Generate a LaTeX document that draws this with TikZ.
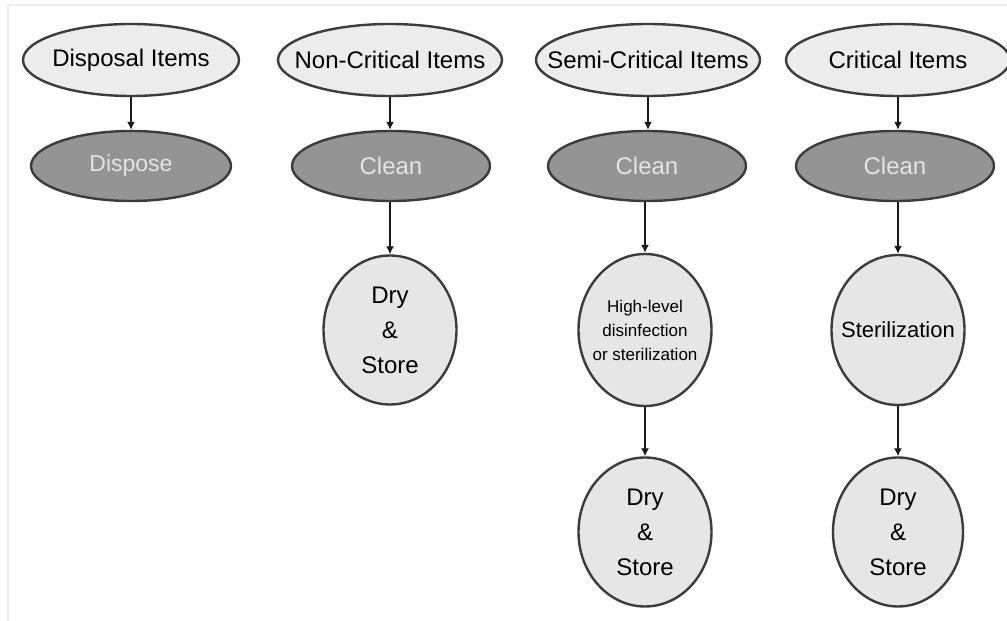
\documentclass[tikz,border=0pt]{standalone}
\usepackage{fontspec}
\setmainfont{Liberation Sans}
\usetikzlibrary{shapes.geometric,arrows.meta}
\begin{document}
\begin{tikzpicture}[x=1pt,y=1pt,
  item/.style={ellipse,draw=edgeColor,line width=2.4pt,fill=itemFill,inner xsep=-40pt,inner ysep=0pt,minimum width=224pt,minimum height=72pt,font=\fontsize{24}{28}\selectfont},
  action/.style={ellipse,draw=edgeColor,line width=2.4pt,fill=actionFill,text=actionText,inner xsep=-30pt,inner ysep=0pt,minimum width=198pt,minimum height=70pt,font=\fontsize{24}{28}\selectfont},
  stage/.style={ellipse,draw=edgeColor,line width=2.4pt,fill=stageFill,inner xsep=-30pt,inner ysep=0pt,minimum width=133pt,minimum height=149pt,align=center,font=\fontsize{24}{35}\selectfont},
  flow/.style={draw=arrowColor,line width=1.4pt,-{Latex[length=8pt,width=8pt]}}]
\definecolor{edgeColor}{RGB}{60,60,60}
\definecolor{itemFill}{RGB}{236,236,236}
\definecolor{actionFill}{RGB}{148,148,148}
\definecolor{actionText}{RGB}{228,228,228}
\definecolor{stageFill}{RGB}{230,230,230}
\definecolor{arrowColor}{RGB}{25,25,25}
\definecolor{frameColor}{RGB}{236,236,236}
\path[use as bounding box,fill=white] (0,0) rectangle (1007,621);

\path[draw=frameColor,line width=2pt] (8,0) -- (8,616) -- (1007,616);

\node[item,minimum width=216pt] (disposalItems) at (131,561) {Disposal Items};

\node[item] (nonCritItems) at (390,561) {Non-Critical Items};

\node[item] (semiCritItems) at (648,561) {Semi-Critical Items};

\node[item] (critItems) at (898,561) {Critical Items};

\node[action,minimum width=200pt,font=\fontsize{23}{28}\selectfont] (dispose) at (131,455) {Dispose};

\node[action] (nonCritClean) at (391,455) {Clean};

\node[action] (semiCritClean) at (647,455) {Clean};

\node[action] (critClean) at (895,455) {Clean};

\node[stage] (nonCritStore) at (390,291) {Dry\\\&\\Store};

\node[stage,minimum height=152pt,font=\fontsize{17}{24}\selectfont] (semiCritDisinfect) at (645,291) {High-level\\disinfection\\or sterilization};

\node[stage,minimum height=150pt,font=\fontsize{22}{28}\selectfont] (critSterilize) at (898,291) {Sterilization};

\node[stage] (semiCritStore) at (645,89) {Dry\\\&\\Store};

\node[stage,minimum width=130pt] (critStore) at (898,89) {Dry\\\&\\Store};

\draw[flow] (disposalItems) -- (dispose);

\draw[flow] (nonCritItems) -- (nonCritClean.north -| nonCritItems);

\draw[flow] (semiCritItems) -- (semiCritClean.north -| semiCritItems);

\draw[flow] (critItems) -- (critClean.north -| critItems);

\draw[flow] (nonCritClean.south -| nonCritStore) -- (nonCritStore);

\draw[flow] (semiCritClean.south -| semiCritDisinfect) -- (semiCritDisinfect);

\draw[flow] (critClean.south -| critSterilize) -- (critSterilize);

\draw[flow] (semiCritDisinfect) -- (semiCritStore);

\draw[flow] (critSterilize) -- (critStore);
\end{tikzpicture}
\end{document}
